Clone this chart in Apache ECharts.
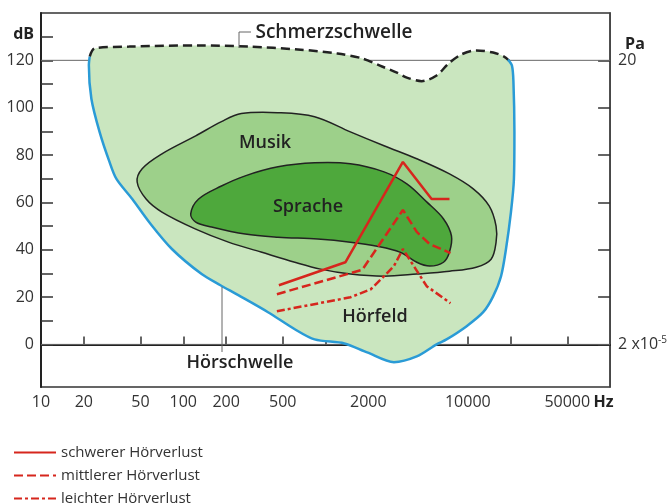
<!DOCTYPE html>
<html>
<head>
<meta charset="utf-8">
<script src="https://cdn.jsdelivr.net/npm/echarts@6/dist/echarts.min.js"></script>
<style>
  html, body { margin: 0; padding: 0; background: #fff; }
  #chart { width: 670px; height: 504px; }
</style>
</head>
<body>
<div id="chart"></div>
<script>
// frequencies in Hz, levels in dB
const xTickValues = [20, 50, 100, 200, 500, 1000, 2000, 5000, 10000, 20000, 50000];
const xLabelValues = [10, 20, 50, 100, 200, 500, 2000, 10000, 50000, 90000];
const yTickValues = [0, 10, 20, 30, 40, 50, 60, 70, 80, 90, 100, 110, 120, 130];
const yLabelValues = [0, 20, 40, 60, 80, 100, 120, 131];
const paTickValues = [0, 20, 40, 60, 80, 100, 120];
const paLabelValues = [0, 120, 126.7];
const refLevels = [120, 0];

// Schmerzschwelle (upper boundary, left to right)
const schmerz = [
  [22, 121.6], [23.8, 125], [41.7, 125.8], [128, 126.3], [286, 125.8], [638, 124.6],
  [1212, 122.9], [1811, 120.8], [2496, 117.4], [3174, 114.8], [3727, 112.7],
  [4742, 111.2], [6034, 113.6], [7311, 118.6], [9010, 122.5], [11460, 124.2],
  [15060, 123.3], [17970, 121.6], [19470, 119.9]
];
// Hörschwelle (lower boundary, left top -> bottom -> right top)
const hoer = [
  [22, 121.6], [21.7, 117.9], [22.6, 103.8], [25.8, 89.8], [30.3, 77.1], [33.9, 69.9],
  [43.8, 61.4], [57.5, 51.7], [83.2, 40.3], [134.6, 29.7], [182.5, 25.0], [243.7, 20.8],
  [394.3, 13.6], [608, 6.4], [838, 2.1], [1356, 0.4], [1962, -3.4], [3025, -7.5],
  [4377, -5.1], [6034, 0], [7085, 2.1], [9760, 7.6], [12820, 13.6], [15060, 20.3],
  [17120, 28.8], [18550, 40.3], [20100, 55.9], [21090, 69.9], [21260, 89.8],
  [20920, 111], [20420, 117.8], [19150, 120.3]
];
const musik = [
  [47.4, 68.6], [51.4, 74.2], [70.8, 80.5], [122.3, 88.1], [185.5, 94.1], [255.7, 97.5],
  [463, 97.9], [838, 96.2], [1494, 89.8], [2577, 83.9], [4377, 78.4], [7432, 72.0],
  [10920, 65.7], [14120, 58.5], [15800, 50.0], [15800, 43.2], [14580, 36.0], [11460, 32.6],
  [7432, 30.9], [4377, 29.7], [2577, 28.8], [1494, 29.7], [923, 31.8], [608, 34.7],
  [352, 39.0], [207.6, 43.2], [122.3, 48.7], [70.8, 55.9], [54.8, 61.4]
];
const sprache = [
  [112.8, 55.1], [128.2, 61.4], [185.5, 66.9], [272.6, 71.2], [463, 75.0], [838, 76.7],
  [1494, 76.3], [2577, 72.9], [3727, 67.8], [5137, 60.2], [6751, 53.0], [7674, 45.8],
  [7432, 39.0], [6751, 34.7], [5391, 33.1], [4377, 34.7], [3332, 39.0], [2304, 41.5],
  [1494, 43.2], [880, 44.5], [463, 45.3], [272.6, 46.6], [158, 49.6], [122.3, 51.7]
];
const schwer = [[470, 25.0], [1378, 34.7], [3497, 77.1], [5567, 61.4], [7432, 61.4]];
const mittel = [[455, 21.2], [1811, 31.5], [3497, 56.8], [4377, 47.5], [5391, 42.4], [7551, 38.6]];
const leicht = [[455, 14.0], [1494, 19.9], [2080, 23.3], [2577, 28.8], [3025, 33.1],
  [3497, 40.3], [4172, 33.1], [5137, 24.6], [7551, 17.4]];

const FONT = '"Open Sans", "Noto Sans", sans-serif';
const RED = '#d6261d';

const chart = echarts.init(document.getElementById('chart'));

function polygonRender(points, style) {
  return function (params, api) {
    if (params.dataIndex !== 0) return;
    return {
      type: 'polygon',
      shape: { points: points.map(p => api.coord(p)), smooth: 0.35 },
      style: style
    };
  };
}

const outerFill = schmerz.concat(hoer.slice().reverse());

const option = {
  animation: false,
  textStyle: { fontFamily: FONT },
  grid: { left: 41, right: 55, top: 13, bottom: 117, show: true, borderColor: '#333', borderWidth: 1.5 },
  xAxis: {
    type: 'log',
    logBase: 10,
    min: 10,
    max: 100000,
    axisLine: { lineStyle: { color: '#222', width: 2 } },
    axisTick: { inside: true, length: 8, customValues: xTickValues, lineStyle: { color: '#333', width: 1.5 } },
    minorTick: { show: false },
    splitLine: { show: false },
    axisLabel: {
      customValues: xLabelValues,
      margin: 7,
      fontSize: 16,
      color: '#333',
      fontFamily: FONT,
      formatter: v => (v === 90000 ? '{b|Hz}' : String(v)),
      rich: { b: { fontWeight: 'bold', fontSize: 16, color: '#222', fontFamily: FONT } }
    }
  },
  yAxis: [
    {
      type: 'value',
      min: -18,
      max: 140,
      axisLine: { show: true, lineStyle: { color: '#222', width: 2 } },
      axisTick: { show: true, inside: true, length: 12, customValues: yTickValues, lineStyle: { color: '#333', width: 1.5 } },
      splitLine: { show: false },
      axisLabel: {
        customValues: yLabelValues,
        margin: 7,
        fontSize: 16,
        color: '#333',
        fontFamily: FONT,
        formatter: v => (v === 131 ? '{b|dB}' : String(v)),
        rich: { b: { fontWeight: 'bold', fontSize: 16, color: '#222', fontFamily: FONT } }
      }
    },
    {
      type: 'value',
      position: 'right',
      min: -18,
      max: 140,
      axisLine: { show: true, lineStyle: { color: '#444', width: 1.5 } },
      axisTick: { show: true, inside: true, length: 12, customValues: paTickValues, lineStyle: { color: '#333', width: 1.5 } },
      splitLine: { show: false },
      axisLabel: {
        customValues: paLabelValues,
        margin: 8,
        fontSize: 16,
        color: '#333',
        fontFamily: FONT,
        hideOverlap: false,
        formatter: v => (v === 120 ? '20' : v === 0 ? '2 x10{sup|-5}' : '{b|Pa}'),
        rich: {
          b: { fontWeight: 'bold', fontSize: 16, color: '#222', padding: [0, 0, 0, 7], fontFamily: FONT },
          sup: { fontSize: 10, color: '#333', verticalAlign: 'top', padding: [0, 0, 9, 0], fontFamily: FONT }
        }
      }
    }
  ],
  legend: {
    orient: 'vertical',
    left: 13,
    top: 445,
    height: 90,
    padding: 0,
    itemWidth: 42,
    itemHeight: 14,
    itemGap: 8,
    selectedMode: false,
    itemStyle: { opacity: 0 },
    textStyle: { fontSize: 15, color: '#333', fontFamily: FONT },
    data: ['schwerer Hörverlust', 'mittlerer Hörverlust', 'leichter Hörverlust']
  },
  series: [
    {
      type: 'custom',
      name: 'ref',
      z: 1,
      data: refLevels,
      renderItem: (params, api) => {
        const v = api.value(0);
        const a = api.coord([10, v]);
        const b = api.coord([100000, v]);
        return { type: 'line', shape: { x1: a[0], y1: a[1], x2: b[0], y2: b[1] }, style: { stroke: '#666', lineWidth: 1 } };
      }
    },
    {
      type: 'custom',
      name: 'Hörfeld',
      z: 2,
      data: outerFill,
      renderItem: polygonRender(outerFill, { fill: '#cae6bf' })
    },
    {
      type: 'custom',
      name: 'Musik',
      z: 3,
      data: musik,
      renderItem: polygonRender(musik, { fill: '#9dd08a', stroke: '#222', lineWidth: 1.5 })
    },
    {
      type: 'custom',
      name: 'Sprache',
      z: 4,
      data: sprache,
      renderItem: polygonRender(sprache, { fill: '#4ea83c', stroke: '#222', lineWidth: 1.5 })
    },
    {
      type: 'line',
      name: 'Schmerzschwelle',
      z: 5,
      data: schmerz,
      smooth: 0.3,
      symbol: 'none',
      lineStyle: { color: '#222', width: 2.5, type: [9, 5] }
    },
    {
      type: 'line',
      name: 'Hörschwelle',
      z: 5,
      data: hoer,
      smooth: 0.3,
      symbol: 'none',
      lineStyle: { color: '#2a9bd6', width: 2.5 }
    },
    {
      type: 'line',
      name: 'schwerer Hörverlust',
      z: 6,
      data: schwer,
      symbol: 'none',
      itemStyle: { color: RED },
      lineStyle: { color: RED, width: 2.5 }
    },
    {
      type: 'line',
      name: 'mittlerer Hörverlust',
      z: 6,
      data: mittel,
      symbol: 'none',
      itemStyle: { color: RED },
      lineStyle: { color: RED, width: 2.5, type: [9, 4] }
    },
    {
      type: 'line',
      name: 'leichter Hörverlust',
      z: 6,
      data: leicht,
      symbol: 'none',
      itemStyle: { color: RED },
      lineStyle: { color: RED, width: 2.5, type: [8, 3, 3, 3] }
    }
  ],
  graphic: [
    { type: 'polyline', shape: { points: [[239, 48], [239, 32], [251, 32]] }, style: { stroke: '#666', lineWidth: 1, fill: null }, z: 10 },
    { type: 'line', shape: { x1: 222, y1: 287, x2: 222, y2: 352 }, style: { stroke: '#666', lineWidth: 1 }, z: 10 },
    { type: 'text', x: 334, y: 33, z: 10, style: { text: 'Schmerzschwelle', font: '600 19px ' + FONT, fill: '#222', align: 'center', verticalAlign: 'middle' } },
    { type: 'text', x: 265, y: 143, z: 10, style: { text: 'Musik', font: '600 18px ' + FONT, fill: '#222', align: 'center', verticalAlign: 'middle' } },
    { type: 'text', x: 308, y: 207, z: 10, style: { text: 'Sprache', font: '600 18px ' + FONT, fill: '#222', align: 'center', verticalAlign: 'middle' } },
    { type: 'text', x: 375, y: 317, z: 10, style: { text: 'Hörfeld', font: '600 18px ' + FONT, fill: '#222', align: 'center', verticalAlign: 'middle' } },
    { type: 'text', x: 240, y: 363, z: 10, style: { text: 'Hörschwelle', font: '600 18px ' + FONT, fill: '#222', align: 'center', verticalAlign: 'middle' } }
  ]
};

chart.setOption(option);
</script>
</body>
</html>
